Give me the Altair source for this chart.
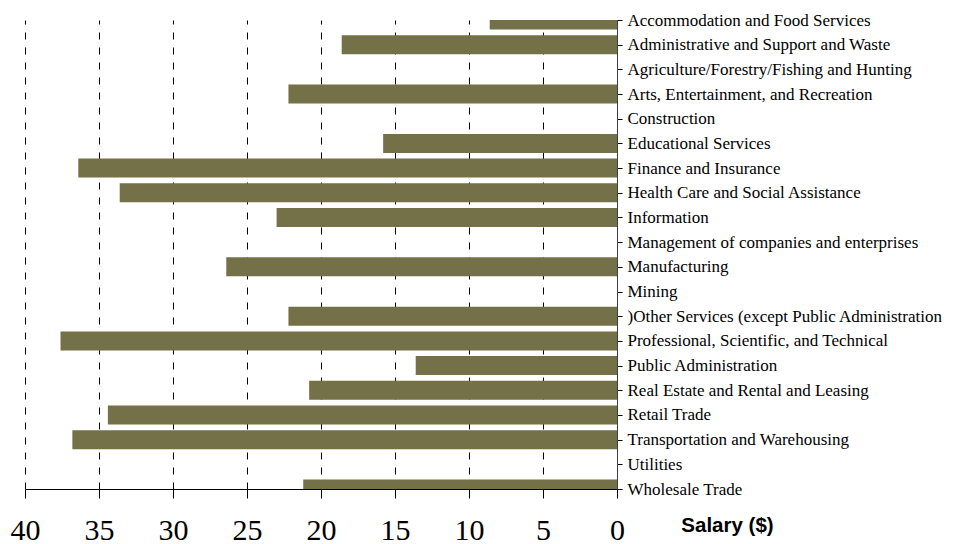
import altair as alt
import pandas as pd

categories = [
    "Accommodation and Food Services",
    "Administrative and Support and Waste",
    "Agriculture/Forestry/Fishing and Hunting",
    "Arts, Entertainment, and Recreation",
    "Construction",
    "Educational Services",
    "Finance and Insurance",
    "Health Care and Social Assistance",
    "Information",
    "Management of companies and enterprises",
    "Manufacturing",
    "Mining",
    ")Other Services (except Public Administration",
    "Professional, Scientific, and Technical",
    "Public Administration",
    "Real Estate and Rental and Leasing",
    "Retail Trade",
    "Transportation and Warehousing",
    "Utilities",
    "Wholesale Trade",
]
salaries = [8.6, 18.6, 0, 22.2, 0, 15.8, 36.4, 33.6, 23.0, 0,
            26.4, 0, 22.2, 37.6, 13.6, 20.8, 34.4, 36.8, 0, 21.2]
x_ticks = [0, 5, 10, 15, 20, 25, 30, 35, 40]

df = pd.DataFrame({"Industry": categories, "Salary": salaries})

chart = alt.Chart(df).mark_bar(size=19, clip=True, color="#747047").encode(
    x=alt.X(
        "Salary:Q",
        scale=alt.Scale(domain=[0, 40], reverse=True, nice=False, zero=True),
        axis=alt.Axis(
            values=x_ticks,
            title="Salary ($)",
            titleFont="Liberation Sans",
            titleFontSize=20.5,
            titleFontWeight="bold",
            titleColor="black",
            titleX=702,
            titleY=36,
            titleAlign="center",
            titleBaseline="middle",
            labelFont="Liberation Serif, Times New Roman, serif",
            labelFontSize=30,
            labelFontWeight="normal",
            labelColor="black",
            labelPadding=17,
            labelFlush=False,
            tickSize=9,
            tickColor="black",
            domainColor="black",
            grid=True,
            gridColor="black",
            gridDash=[7, 8],
            gridWidth=1,
            gridOpacity=1,
        ),
    ),
    y=alt.Y(
        "Industry:N",
        sort=categories,
        scale=alt.Scale(type="point", padding=0),
        axis=alt.Axis(
            orient="right",
            title=None,
            labelFont="Liberation Serif, Times New Roman, serif",
            labelFontSize=17,
            labelColor="black",
            labelPadding=5,
            tickSize=5,
            tickColor="black",
            domainColor="#404040",
            labelLimit=500,
            grid=False,
        ),
    ),
).properties(
    width=592,
    height=469,
    padding={"left": 2, "top": 2, "right": 5, "bottom": 5},
).configure_view(stroke=None)

chart.save("out.html", embed_options={"renderer": "svg", "actions": False})
